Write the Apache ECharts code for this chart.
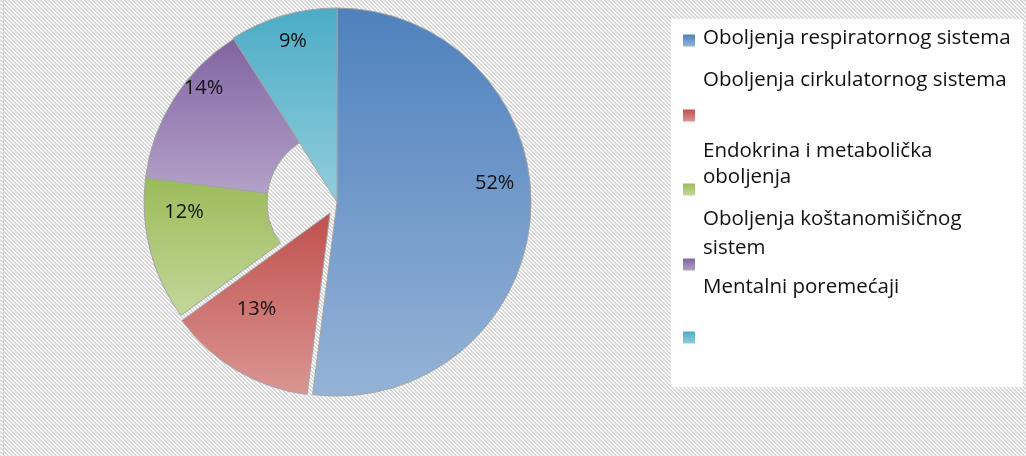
<!DOCTYPE html>
<html>
<head>
<meta charset="utf-8">
<script src="https://cdn.jsdelivr.net/npm/echarts@6/dist/echarts.min.js"></script>
<style>
  html, body { margin: 0; padding: 0; }
  #chart { width: 1026px; height: 456px; }
</style>
</head>
<body>
<div id="chart"></div>
<script>
// podaci
var categories = ['Oboljenja respiratornog sistema', 'Oboljenja cirkulatornog sistema', 'Endokrina i metabolička oboljenja', 'Oboljenja koštanomišičnog sistem', 'Mentalni poremećaji'];
var values = [52, 13, 12, 14, 9]; // procenti
var legendLines = [
	['Oboljenja respiratornog sistema'],
	['Oboljenja cirkulatornog sistema'],
	['Endokrina i metabolička', 'oboljenja'],
	['Oboljenja koštanomišičnog', 'sistem'],
	['Mentalni poremećaji']
];

var topColors = ['#4f81bd', '#c0504d', '#9bbb59', '#8064a2', '#4bacc6'];
var bottomColors = ['#95b3d7', '#da9694', '#c4d79b', '#b3a2c7', '#93cddd'];
var FONT = 'Open Sans';

var dom = document.getElementById('chart');
var myChart = echarts.init(dom);

// prugasta pozadina (kao u Excelu)
var tile = document.createElement('canvas');
tile.width = 4;
tile.height = 4;
var tctx = tile.getContext('2d');
var img = tctx.createImageData(4, 4);
for (var y = 0; y < 4; y++) {
	for (var x = 0; x < 4; x++) {
		var k = (((x - y) % 4) + 4) % 4;
		var c = k < 2 ? 214 : 250;
		var p = (y * 4 + x) * 4;
		img.data[p] = c; img.data[p + 1] = c; img.data[p + 2] = c; img.data[p + 3] = 255;
	}
}
tctx.putImageData(img, 0, 0);

function grad(i) {
	return new echarts.graphic.LinearGradient(0, 0, 0, 1, [
		{ offset: 0, color: topColors[i] },
		{ offset: 1, color: bottomColors[i] }
	]);
}

// svaka serija prikazuje samo neke isječke, ostali su providni
function sliceData(show) {
	return categories.map(function(name, i) {
		var vis = show.indexOf(i) >= 0;
		return {
			name: name,
			value: values[i],
			itemStyle: vis ? { color: grad(i), borderColor: '#a3a3a3', borderWidth: 1 }
				: { color: 'transparent', borderWidth: 0 }
		};
	});
}

function pieSeries(center, radius, show) {
	return {
		type: 'pie',
		center: center,
		radius: radius,
		startAngle: 90,
		clockwise: true,
		silent: true,
		animation: false,
		label: { show: false },
		labelLine: { show: false },
		emphasis: { disabled: true },
		data: sliceData(show)
	};
}

// legenda: jedna po stavci da bi se kvadratić poravnao kao u originalu
var legendTops = [28, 70, 141, 209, 277];
var lineHeights = [[26], [26], [26, 26], [26, 32], [26]];
var tailGaps = [4, 70, 50, 58, 100];
var legends = categories.map(function(name, i) {
	var rich = { g: { lineHeight: tailGaps[i] } };
	lineHeights[i].forEach(function(lh, j) {
		rich['t' + j] = { fontFamily: FONT, fontSize: 20.5, color: '#111', lineHeight: lh, padding: [0, 0, 0, 3] };
	});
	return {
		orient: 'vertical',
		left: 683,
		top: legendTops[i],
		padding: 0,
		icon: 'rect',
		itemWidth: 12,
		itemHeight: 12,
		itemStyle: { borderWidth: 0 },
		data: [{ name: name, itemStyle: { color: grad(i), borderWidth: 0 } }],
		textStyle: { rich: rich },
		formatter: function() {
			var s = legendLines[i].map(function(t, j) { return '{t' + j + '|' + t + '}'; }).join('\n');
			return s + '\n{g| }';
		}
	};
});

option = {
	backgroundColor: { image: tile, repeat: 'repeat' },
	animation: false,
	legend: legends,
	graphic: [
		{ type: 'rect', shape: { x: 671, y: 19, width: 352, height: 368 }, style: { fill: '#fff' }, z: 0 },
		{ type: 'line', shape: { x1: 3.5, y1: 0, x2: 3.5, y2: 456 }, style: { stroke: '#cfcfcf', lineWidth: 1 }, z: 0 }
	],
	series: [
		pieSeries([337, 202], [0, 194], [0, 4]),
		pieSeries([330, 213], [0, 183], [1]),
		pieSeries([337, 202], [70, 193], [2, 3]),
		{
			// samo oznake procenata
			type: 'pie',
			center: [337, 173],
			radius: [116, 194],
			startAngle: 90,
			silent: true,
			animation: false,
			avoidLabelOverlap: false,
			itemStyle: { color: 'transparent', borderWidth: 0 },
			label: {
				show: true,
				position: 'inside',
				formatter: '{c}%',
				fontFamily: FONT,
				fontSize: 20,
				color: '#111'
			},
			labelLayout: function(params) {
				// mali isječak gore ima oznaku niže
				return params.dataIndex === 4 ? { dy: 20 } : {};
			},
			labelLine: { show: false },
			emphasis: { disabled: true },
			data: categories.map(function(name, i) { return { name: name, value: values[i] }; })
		}
	]
};

if (option && typeof option === 'object') {
	myChart.setOption(option, true);
}
</script>
</body>
</html>
